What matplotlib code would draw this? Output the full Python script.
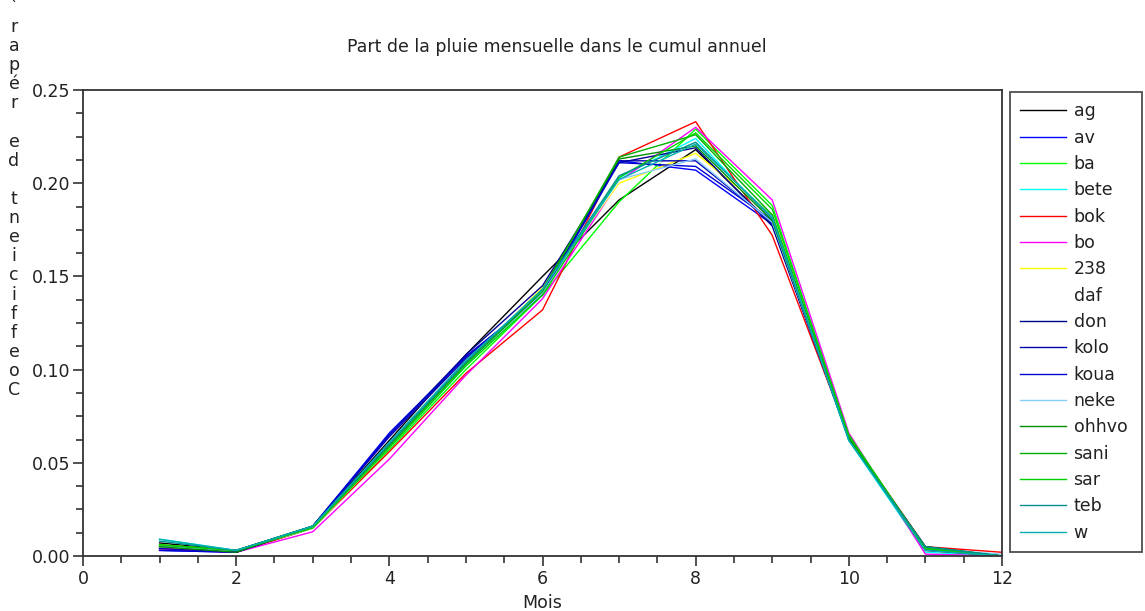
import matplotlib
matplotlib.use("Agg")
import matplotlib.pyplot as plt
from matplotlib.ticker import MultipleLocator, FormatStrFormatter

months = [1, 2, 3, 4, 5, 6, 7, 8, 9, 10, 11, 12]

labels = ["ag", "av", "ba", "bete", "bok", "bo", "238", "daf", "don", "kolo",
          "koua", "neke", "ohhvo", "sani", "sar", "teb", "w"]

ag    = [0.007, 0.003, 0.016, 0.062, 0.108, 0.150, 0.191, 0.218, 0.178, 0.064, 0.004, 0.000]
av    = [0.003, 0.002, 0.016, 0.066, 0.107, 0.140, 0.212, 0.207, 0.178, 0.064, 0.004, 0.000]
ba    = [0.005, 0.002, 0.015, 0.057, 0.100, 0.140, 0.190, 0.229, 0.188, 0.064, 0.004, 0.000]
bete  = [0.009, 0.003, 0.015, 0.058, 0.102, 0.142, 0.203, 0.224, 0.180, 0.062, 0.002, 0.000]
bok   = [0.004, 0.002, 0.015, 0.056, 0.098, 0.132, 0.214, 0.233, 0.172, 0.064, 0.005, 0.002]
bo    = [0.004, 0.002, 0.013, 0.052, 0.097, 0.138, 0.201, 0.230, 0.191, 0.066, 0.001, 0.000]
s238  = [0.006, 0.003, 0.015, 0.058, 0.103, 0.144, 0.200, 0.216, 0.183, 0.063, 0.003, 0.000]
daf   = [0.005, 0.003, 0.015, 0.058, 0.103, 0.143, 0.201, 0.220, 0.181, 0.064, 0.004, 0.000]
don   = [0.005, 0.003, 0.016, 0.065, 0.108, 0.145, 0.211, 0.219, 0.177, 0.063, 0.005, 0.000]
kolo  = [0.004, 0.002, 0.016, 0.064, 0.106, 0.141, 0.212, 0.212, 0.179, 0.063, 0.003, 0.000]
koua  = [0.003, 0.002, 0.016, 0.065, 0.107, 0.140, 0.211, 0.209, 0.180, 0.064, 0.004, 0.000]
neke  = [0.005, 0.003, 0.015, 0.059, 0.103, 0.141, 0.202, 0.213, 0.179, 0.063, 0.004, 0.001]
ohhvo = [0.005, 0.002, 0.016, 0.060, 0.104, 0.143, 0.213, 0.220, 0.180, 0.063, 0.005, 0.000]
sani  = [0.006, 0.003, 0.016, 0.059, 0.103, 0.142, 0.214, 0.226, 0.183, 0.064, 0.004, 0.000]
sar   = [0.006, 0.003, 0.015, 0.058, 0.102, 0.140, 0.203, 0.227, 0.186, 0.065, 0.004, 0.000]
teb   = [0.008, 0.003, 0.016, 0.060, 0.104, 0.143, 0.204, 0.222, 0.181, 0.062, 0.005, 0.000]
w     = [0.009, 0.003, 0.016, 0.061, 0.105, 0.143, 0.202, 0.221, 0.182, 0.062, 0.003, 0.000]

series = [ag, av, ba, bete, bok, bo, s238, daf, don, kolo, koua, neke, ohhvo, sani, sar, teb, w]

colors = ["#000000", "#0000ff", "#00ff00", "#00ffff", "#ff0000", "#ff00ff", "#ffff00",
          "#ffffff", "#000090", "#0000b0", "#0000d0", "#87ceff", "#009000", "#00b000",
          "#00d000", "#009090", "#00b0b0"]

title = "Part de la pluie mensuelle dans le cumul annuel"
xlabel = "Mois"
ylabel_stack = "`rapér ed tneiciffeoC"

FONT = "DejaVu Sans"
plt.rcParams["font.family"] = [FONT]
FS = 12.5

W, H = 1145, 611
fig = plt.figure(figsize=(W / 100, H / 100), dpi=100)
ax = fig.add_axes([83 / W, 1 - 556 / H, (1002 - 83) / W, (556 - 90) / H])

lines = []
for vals, lab, col in zip(series, labels, colors):
    ln, = ax.plot(months, vals, color=col, lw=1.0, label=lab)
    lines.append(ln)

ax.set_xlim(0, 12)
ax.set_ylim(0, 0.25)
ax.xaxis.set_major_locator(MultipleLocator(2))
ax.xaxis.set_minor_locator(MultipleLocator(0.5))
ax.yaxis.set_major_locator(MultipleLocator(0.05))
ax.yaxis.set_minor_locator(MultipleLocator(0.0125))
ax.yaxis.set_major_formatter(FormatStrFormatter("%.2f"))
ax.tick_params(which="both", direction="out", color="#333333", width=1.2,
               labelsize=FS, labelcolor="#222222")
ax.tick_params(which="major", length=7)
ax.tick_params(which="minor", length=5)
ax.tick_params(axis="x", pad=3)
ax.tick_params(axis="y", pad=2)
for sp in ax.spines.values():
    sp.set_color("#333333")
    sp.set_linewidth(1.3)

fig.text(557 / W, 1 - 47 / H, title, ha="center", va="center", fontsize=FS, color="#222222")
fig.text(542 / W, 1 - 603 / H, xlabel, ha="center", va="center", fontsize=FS, color="#222222")

top, bottom = 8, 390
n = len(ylabel_stack)
for i, ch in enumerate(ylabel_stack):
    yy = top + i * (bottom - top) / (n - 1)
    fig.text(14 / W, 1 - yy / H, ch, ha="center", va="center", fontsize=FS, color="#222222")

leg = ax.legend(handles=lines, loc="upper left",
                bbox_to_anchor=(1010 / W, 1 - 92 / H, (1142 - 1010) / W, 0.0),
                bbox_transform=fig.transFigure, mode="expand",
                fancybox=False, frameon=True, fontsize=FS,
                handlelength=2.6, handletextpad=0.46, labelspacing=0.48,
                borderpad=0.6, borderaxespad=0.0)
leg.get_frame().set_edgecolor("#222222")
leg.get_frame().set_linewidth(1.3)
for t in leg.get_texts():
    t.set_color("#222222")

fig.savefig("out.png", dpi=100)
